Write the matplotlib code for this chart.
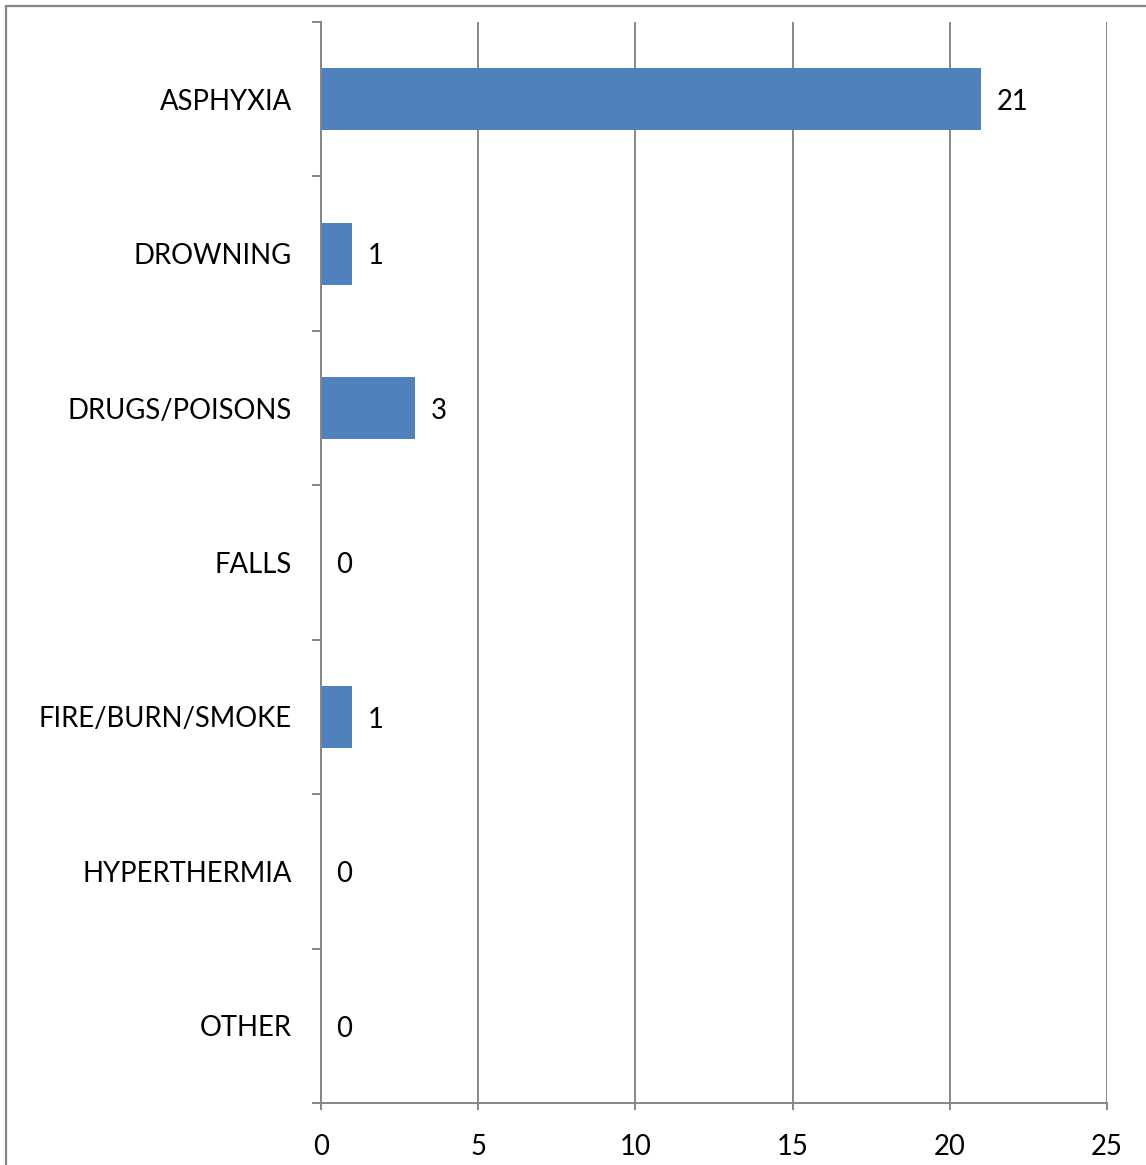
import matplotlib.pyplot as plt
from matplotlib.patches import Rectangle
from matplotlib.ticker import FixedLocator

# Data
categories = ['ASPHYXIA', 'DROWNING', 'DRUGS/POISONS', 'FALLS',
              'FIRE/BURN/SMOKE', 'HYPERTHERMIA', 'OTHER']
counts = [21, 1, 3, 0, 1, 0, 0]
x_ticks = [0, 5, 10, 15, 20, 25]

plt.rcParams['font.family'] = ['Lato', 'DejaVu Sans']
grey = '#868686'
W, H = 1146, 1165
fs = 19.8

fig = plt.figure(figsize=(W / 100, H / 100), dpi=100)
ax = fig.add_axes([321 / W, 1 - 1103 / H, (1107 - 321) / W, (1103 - 22) / H])

y = list(range(len(categories)))
bars = ax.barh(y, counts, height=0.4, color='#4F81BD', zorder=3)

ax.set_xlim(0, 25)
ax.set_ylim(len(categories) - 0.5, -0.5)
ax.set_xticks(x_ticks)
ax.set_xticklabels([str(t) for t in x_ticks], fontsize=fs)
ax.set_yticks(y)
ax.set_yticklabels(categories, fontsize=fs)
ax.yaxis.set_minor_locator(FixedLocator([i - 0.5 for i in range(len(categories) + 1)]))

ax.tick_params(axis='y', which='major', length=0, pad=21)
ax.tick_params(axis='y', which='minor', length=6.5, width=1.4, color=grey, direction='out')
ax.tick_params(axis='x', length=5, width=1.4, color=grey, pad=17)

ax.grid(axis='x', color=grey, linewidth=1.4, zorder=0)
for s in ['top', 'right']:
    ax.spines[s].set_visible(False)
for s in ['left', 'bottom']:
    ax.spines[s].set_color(grey)
    ax.spines[s].set_linewidth(1.4)
    ax.spines[s].set_zorder(4)

# value labels
for b, v in zip(bars, counts):
    ax.annotate(str(v), (v, b.get_y() + b.get_height() / 2), xytext=(11, -2),
                textcoords='offset points', va='center', ha='left', fontsize=fs)

# chart border
fig.patches.append(Rectangle((6 / W, -0.1), 1.2, 1 - 6 / H + 0.1,
                             transform=fig.transFigure, fill=False,
                             edgecolor=grey, linewidth=1.6))

fig.savefig('out.png', dpi=100)
